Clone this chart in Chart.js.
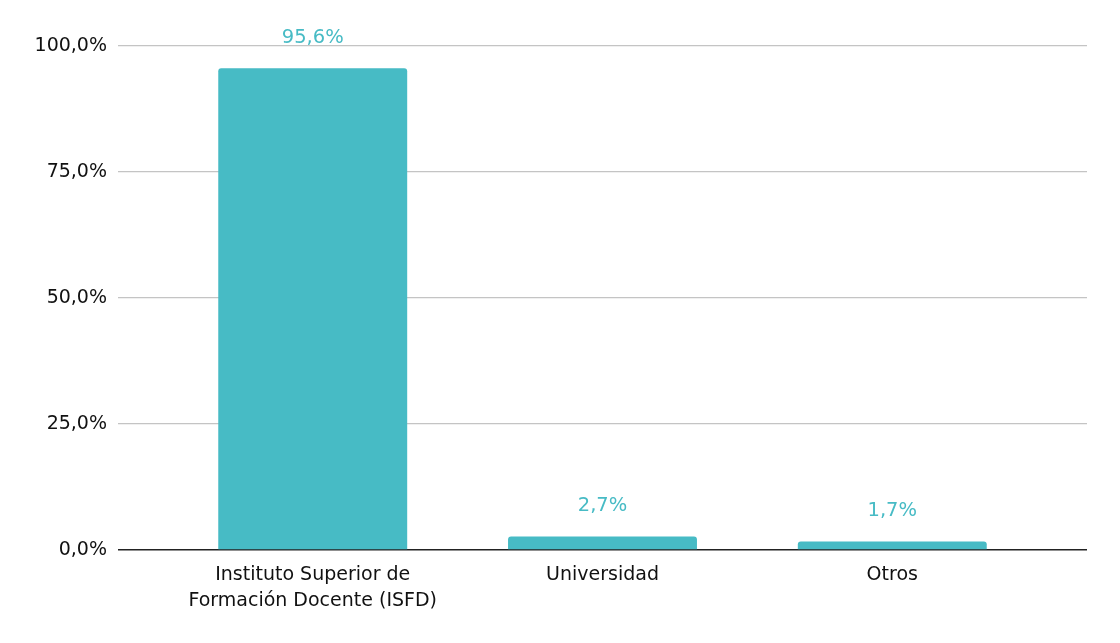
<!DOCTYPE html>
<html>
<head>
<meta charset="utf-8">
<script src="https://cdn.jsdelivr.net/npm/chart.js@4"></script>
<style>
  html, body { margin: 0; padding: 0; background: #fff; }
  #wrap { width: 1120px; height: 643px; }
</style>
</head>
<body>
<div id="wrap"><canvas id="chart"></canvas></div>
<script>
const categories = [
  ["Instituto Superior de", "Formación Docente (ISFD)"],
  "Universidad",
  "Otros",
];
const shares = [95.6, 2.7, 1.7];
const yTicks = [0, 25, 50, 75, 100];

const barColor = "#47bbc5";
const positions = categories.map((_, i) => i);

function pct(v) {
  return v.toFixed(1).replace(".", ",") + "%";
}

// value labels above each bar
const valueLabels = {
  id: "valueLabels",
  afterDatasetsDraw(chart) {
    const ctx = chart.ctx;
    const meta = chart.getDatasetMeta(0);
    ctx.save();
    ctx.font = "19.5px 'DejaVu Sans'";
    ctx.fillStyle = barColor;
    ctx.textAlign = "center";
    ctx.textBaseline = "middle";
    meta.data.forEach((bar, i) => {
      ctx.fillText(pct(shares[i]), bar.x, bar.y - 30);
    });
    ctx.restore();
  },
};

new Chart(document.getElementById("chart"), {
  type: "bar",
  data: {
    datasets: [
      {
        data: shares.map((v, i) => ({ x: positions[i], y: v })),
        backgroundColor: barColor,
        borderRadius: { topLeft: 3, topRight: 3 },
        borderSkipped: "bottom",
        categoryPercentage: 1,
        barPercentage: 0.652,
      },
    ],
  },
  options: {
    responsive: true,
    maintainAspectRatio: false,
    animation: false,
    layout: { padding: { top: 46, right: 33, left: 0, bottom: 0 } },
    plugins: {
      legend: { display: false },
      tooltip: { enabled: false },
    },
    scales: {
      x: {
        type: "linear",
        offset: false,
        min: -0.672,
        max: 2.672,
        afterBuildTicks: (scale) => {
          scale.ticks = positions.map((v) => ({ value: v }));
        },
        afterFit: (scale) => {
          scale.height = 93;
        },
        grid: { display: false, offset: false },
        border: { display: false },
        ticks: {
          padding: 5,
          color: "#111",
          font: { family: "'DejaVu Sans'", size: 19, lineHeight: 1.32 },
          callback: (value) => categories[value],
        },
      },
      y: {
        min: 0,
        max: 100,
        afterBuildTicks: (scale) => {
          scale.ticks = yTicks.map((v) => ({ value: v }));
        },
        afterFit: (scale) => {
          scale.width = 118;
        },
        border: { display: false },
        grid: {
          drawTicks: false,
          color: (ctx) => (ctx.tick && ctx.tick.value === 0 ? "#222" : "#c4c4c4"),
          lineWidth: (ctx) => (ctx.tick && ctx.tick.value === 0 ? 1.5 : 1.2),
        },
        ticks: {
          padding: 11,
          color: "#111",
          font: { family: "'DejaVu Sans'", size: 19 },
          callback: (value) => pct(value),
        },
      },
    },
  },
  plugins: [valueLabels],
});
</script>
</body>
</html>
